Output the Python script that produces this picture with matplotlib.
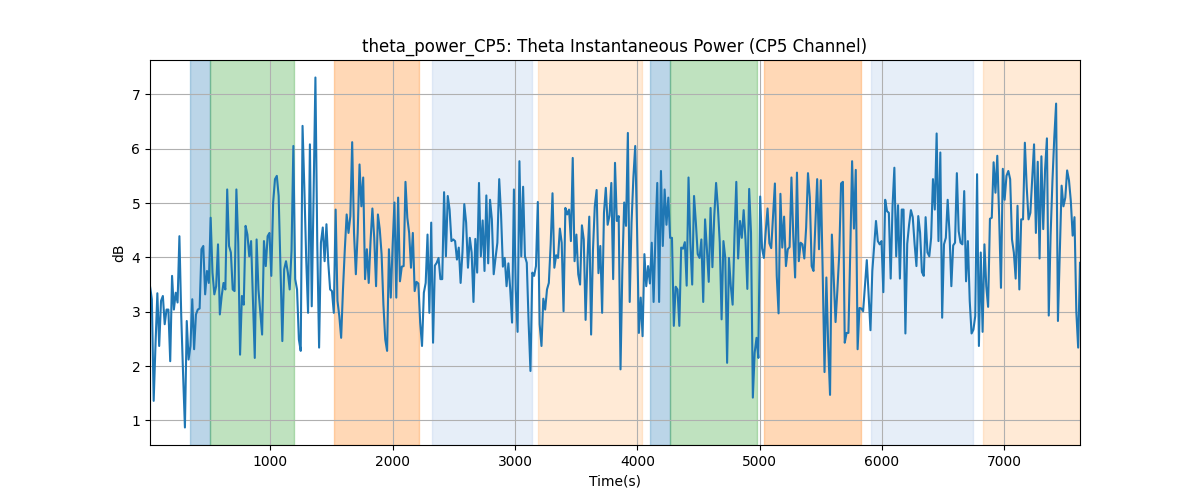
import numpy as np
import matplotlib
matplotlib.use("Agg")
import matplotlib.pyplot as plt

# theta power (dB), in time order
theta_power_db = [
    3.47, 3.23, 1.36, 2.40, 3.34, 2.37, 3.20, 3.29, 2.77, 3.04, 3.04, 2.09, 3.66, 3.04, 3.35, 3.17,
    4.39, 2.92, 1.85, 0.87, 2.83, 2.12, 2.37, 3.23, 2.31, 2.95, 3.04, 3.06, 4.15, 4.21, 3.32, 3.75,
    3.53, 4.73, 3.72, 3.32, 3.47, 4.24, 2.95, 3.29, 3.53, 3.41, 5.25, 4.21, 4.09, 3.41, 3.38, 5.25,
    4.27, 2.21, 3.29, 3.13, 4.58, 4.42, 4.02, 4.30, 3.20, 2.15, 4.33, 3.41, 3.00, 2.58, 4.30, 3.84,
    4.39, 4.45, 3.66, 5.01, 5.44, 5.50, 5.13, 3.80, 2.46, 3.78, 3.93, 3.72, 3.41, 4.12, 6.05, 3.60,
    3.41,
    2.49, 2.28, 6.42, 5.25, 3.96, 2.98, 6.08, 3.10, 5.13, 7.31, 4.27, 2.34, 4.27, 4.55, 3.93, 4.61,
    3.90, 3.41, 3.38, 2.98, 4.88, 3.20, 2.92, 2.52, 3.41, 4.15, 4.79, 4.45, 4.76, 6.12, 4.45, 3.69,
    4.45, 5.71, 4.94, 5.47, 3.60, 4.15, 3.53, 4.30, 4.90, 4.36, 3.47, 4.79, 4.52, 4.06, 3.13, 2.49,
    2.28, 4.15, 3.26, 4.21, 5.01, 3.26, 5.10, 3.56, 3.83, 3.84, 5.39, 4.73, 4.45, 3.81, 4.45, 3.38,
    3.55, 3.52, 2.80, 2.37, 3.35, 3.53, 4.42, 2.98, 4.64, 2.43, 3.85, 3.90, 3.99, 3.60, 3.60, 5.20,
    4.02, 5.13, 4.88, 4.30,
    4.33, 4.30, 3.96, 4.18, 3.53, 4.09, 4.98, 4.64, 3.81, 4.36, 4.09, 3.18, 4.34, 3.72, 5.37, 4.02,
    4.68, 3.75, 5.14, 3.89, 5.06, 4.70, 3.69, 3.99, 4.27, 5.44, 4.79, 3.83, 3.99, 3.47, 3.89, 3.41,
    2.80, 5.25, 3.41, 2.63, 5.77, 4.02, 5.30, 4.02, 3.90, 2.80, 1.91, 3.72, 3.66, 3.84, 5.02, 2.77,
    2.37, 3.24, 3.04, 3.41, 3.53, 4.24, 5.18, 3.81, 4.04, 3.99, 4.53, 4.27, 3.01, 4.91, 4.79, 4.88,
    4.30, 5.83, 3.93, 4.42, 3.69, 3.50, 4.59, 4.33, 2.85, 3.96, 4.75, 2.58, 4.12, 4.94, 5.24, 3.71,
    4.21, 2.98, 4.82,
    5.28, 4.60, 4.77, 5.37, 3.60, 5.74, 4.67, 4.76, 1.94, 3.78, 5.01, 4.58, 6.29, 3.18, 4.64, 5.47,
    6.05, 4.52, 2.61, 3.26, 2.55, 4.06, 3.47, 3.84, 3.52, 4.27, 3.18, 4.39, 5.37, 3.18, 5.59, 4.21,
    5.25, 4.60, 5.10, 4.36, 4.36, 2.74, 3.46, 3.41, 2.74, 4.18, 4.16, 4.28, 3.48, 5.47, 4.27, 3.50,
    5.13, 4.64, 4.06, 3.99, 4.33, 3.18, 4.70, 4.15, 3.55, 4.91, 3.82, 4.76, 5.37, 4.91, 4.27, 2.86,
    4.30, 3.99, 2.06, 3.99, 3.47, 3.13, 4.39, 5.39, 3.98, 4.67, 4.36, 4.87, 4.33, 3.42, 5.26, 4.45,
    1.42, 2.25, 2.52, 2.15, 5.12, 4.17,
    3.99, 4.48, 4.90, 4.26, 4.17, 4.75, 5.36, 3.66, 2.97, 5.17, 4.18, 4.75, 3.84, 4.15, 4.19, 5.47,
    4.39, 3.63, 5.56, 3.93, 4.27, 4.24, 3.98, 4.55, 5.55, 5.10, 3.84, 3.75, 4.62, 5.44, 4.15, 5.42,
    3.72, 1.89, 3.63, 2.37, 1.47, 4.42, 3.60, 2.81, 3.40, 4.06, 5.36, 5.39, 2.43, 2.61, 2.61, 4.10,
    5.77, 4.53, 5.61, 2.31, 3.07, 3.06, 3.01, 3.47, 3.95, 3.32, 2.66, 3.75, 4.20, 4.67, 4.30, 4.24,
    4.30, 3.36, 5.06, 4.85, 4.82, 3.61, 4.94, 5.65, 4.02, 4.96, 3.61, 4.88, 4.88, 2.60, 4.25, 4.60,
    4.87, 4.74, 4.25, 3.84,
    4.76, 4.45, 3.73, 3.66, 4.74, 4.09, 4.02, 4.36, 5.44, 4.88, 6.28, 4.30, 5.93, 2.89, 4.24, 4.36,
    5.06, 4.45, 3.47, 4.22, 4.27, 5.55, 4.48, 4.27, 4.24, 5.22, 3.56, 4.30, 3.20, 2.60, 2.67, 2.92,
    5.53, 2.37, 4.09, 2.63, 4.24, 3.47, 3.09, 4.71, 4.73, 5.75, 5.19, 5.87, 4.76, 3.44, 5.63, 5.06,
    5.50, 5.59, 5.44, 4.33, 4.09, 3.61, 4.95, 3.41, 4.70, 4.70, 6.11, 5.30, 4.70, 4.82, 5.46, 6.08,
    4.45, 5.76, 3.98, 5.86, 4.52, 5.62, 6.19, 2.93, 4.40, 5.40, 6.20, 6.83, 2.83, 4.10, 5.32, 4.94,
    5.10, 5.60, 5.42, 5.04, 4.40, 4.74, 3.00, 2.34, 3.90,
]
t_start, t_end = 16, 7619

# marked intervals (seconds) and their kind
span_start = [344, 507, 1521, 2324, 3188, 4104, 4270, 5036, 5911, 6829]
span_end = [507, 1191, 2213, 3139, 4041, 4270, 4976, 5826, 6742, 7619]
span_kind = ["a", "b", "c", "d", "e", "a", "b", "c", "d", "e"]

kind_color = {"a": "tab:blue", "b": "tab:green", "c": "tab:orange",
              "d": "#aec7e8", "e": "#ffbb78"}

time = np.linspace(t_start, t_end, len(theta_power_db))

fig, ax = plt.subplots(figsize=(12, 5), dpi=100)
for s, e, k in zip(span_start, span_end, span_kind):
    ax.axvspan(s, e, color=kind_color[k], alpha=0.3)
ax.plot(time, theta_power_db, color="tab:blue")
ax.set_xlim(time[0], time[-1])
ax.set_title("theta_power_CP5: Theta Instantaneous Power (CP5 Channel)")
ax.set_xlabel("Time(s)")
ax.set_ylabel("dB")
ax.grid(True)
fig.savefig("out.png")
